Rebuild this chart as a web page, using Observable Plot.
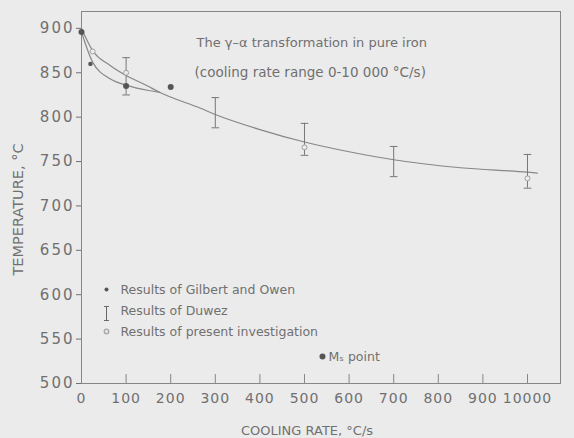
<!DOCTYPE html>
<html><head><meta charset="utf-8">
<script src="https://cdn.jsdelivr.net/npm/d3@7"></script>
<script src="https://cdn.jsdelivr.net/npm/@observablehq/plot@0.6"></script>
<style>
html,body{margin:0;padding:0;background:#ebebeb;}
#chart svg{display:block;}
g[aria-label="y-axis tick label"] text{letter-spacing:2px;}
g[aria-label="x-axis tick label"] text{letter-spacing:1px;}
</style>
</head><body><div id="chart"></div>
<script>
// Main curve (upper branch, runs to 10 000 °C/s)
const upperRate = [0, 25, 65, 100, 145, 175, 267, 300, 400, 500, 600, 700, 850, 1000, 1022];
const upperTemp = [900, 875, 858, 847, 836, 828, 810, 803, 786, 772, 761, 752, 743, 738, 737];
// Lower branch (joins the main curve near 175)
const lowerRate = [0, 25, 65, 100, 150, 175];
const lowerTemp = [896, 862, 843, 836, 830, 828];
// Results of Gilbert and Owen
const gilbertRate = [20];
const gilbertTemp = [860];
// Ms points
const msRate = [0, 100, 200];
const msTemp = [896, 835, 834];
// Results of Duwez (error bars)
const duwezRate = [100, 300, 500, 700, 1000];
const duwezLow = [825, 788, 757, 733, 720];
const duwezHigh = [867, 822, 793, 767, 758];
// Results of present investigation
const presentRate = [25, 100, 500, 1000];
const presentTemp = [874, 850, 766, 731];
// Axis ticks
const xTicks = [0, 100, 200, 300, 400, 500, 600, 700, 800, 900, 1000];
const xTickLabels = ["0", "100", "200", "300", "400", "500", "600", "700", "800", "900", "10000"];
const yTicks = [500, 550, 600, 650, 700, 750, 800, 850, 900];
// Texts
const titleLines = ["The γ–α transformation in pure iron", "(cooling rate range 0-10 000 °C/s)"];
const legendLabels = ["Results of Gilbert and Owen", "Results of Duwez", "Results of present investigation", "Mₛ point"];
const xLabel = "COOLING RATE, °C/s";
const yLabel = "TEMPERATURE, °C";

const upper = upperRate.map((r, i) => ({rate: r, temp: upperTemp[i]}));
const lower = lowerRate.map((r, i) => ({rate: r, temp: lowerTemp[i]}));
const gilbert = gilbertRate.map((r, i) => ({rate: r, temp: gilbertTemp[i]}));
const ms = msRate.map((r, i) => ({rate: r, temp: msTemp[i]}));
const duwez = duwezRate.map((r, i) => ({rate: r, lo: duwezLow[i], hi: duwezHigh[i]}));
const present = presentRate.map((r, i) => ({rate: r, temp: presentTemp[i]}));

const hbar = {draw(ctx, size) { const w = Math.sqrt(size) * 1.2; ctx.moveTo(-w, 0); ctx.lineTo(w, 0); }};
const ibar = {draw(ctx, size) { const h = Math.sqrt(size) * 1.1, w = h * 0.35;
  ctx.moveTo(0, -h); ctx.lineTo(0, h); ctx.moveTo(-w, -h); ctx.lineTo(w, -h); ctx.moveTo(-w, h); ctx.lineTo(w, h); }};

const ink = "#707070";
const lineCol = "#878787";
const T = {frameAnchor: "top-left", textAnchor: "start", lineAnchor: "middle", fill: ink};

const chart = Plot.plot({
  width: 574, height: 438,
  marginLeft: 81, marginRight: 14, marginTop: 11, marginBottom: 55,
  style: {background: "#ebebeb", fontFamily: "DejaVu Sans", color: ink, overflow: "visible"},
  x: {domain: [0, 1074]},
  y: {domain: [500, 919]},
  marks: [
    Plot.frame({stroke: lineCol, strokeWidth: 1}),
    Plot.axisY({ticks: yTicks, tickSize: 5, tickPadding: 2, fontSize: 15, label: null, color: ink}),
    Plot.axisX({ticks: xTicks, tickSize: 9, dy: -9, text: null, label: null, color: lineCol}),
    Plot.axisX({ticks: xTicks, tickSize: 0, tickPadding: 10, fontSize: 14, label: null, color: ink,
      tickFormat: d => xTickLabels[xTicks.indexOf(d)]}),
    Plot.line(upper, {x: "rate", y: "temp", curve: "monotone-x", stroke: lineCol, strokeWidth: 1.2}),
    Plot.line(lower, {x: "rate", y: "temp", curve: "monotone-x", stroke: lineCol, strokeWidth: 1.2}),
    Plot.ruleX(duwez, {x: "rate", y1: "lo", y2: "hi", stroke: "#777", strokeWidth: 1}),
    Plot.dot(duwez, {x: "rate", y: "lo", symbol: hbar, r: 1.8, stroke: "#777", strokeWidth: 1}),
    Plot.dot(duwez, {x: "rate", y: "hi", symbol: hbar, r: 1.8, stroke: "#777", strokeWidth: 1}),
    Plot.dot(present, {x: "rate", y: "temp", r: 2.5, stroke: "#a0a0a0", fill: "#ebebeb", strokeWidth: 1}),
    Plot.dot(gilbert, {x: "rate", y: "temp", r: 2.2, fill: "#555", stroke: "none"}),
    Plot.dot(ms, {x: "rate", y: "temp", r: 3, fill: "#555", stroke: "none"}),
    // title
    Plot.text([titleLines[0]], {...T, dx: 115, dy: 31, fontSize: 13}),
    Plot.text([titleLines[1]], {...T, dx: 113, dy: 61, fontSize: 13.5}),
    // legend
    Plot.dot([legendLabels[0]], {frameAnchor: "top-left", dx: 25, dy: 278, r: 2, fill: "#555", stroke: "none"}),
    Plot.text([legendLabels[0]], {...T, dx: 39, dy: 278, fontSize: 12.5}),
    Plot.dot([legendLabels[1]], {frameAnchor: "top-left", dx: 25, dy: 302, r: 3.6, symbol: ibar, stroke: "#666", strokeWidth: 1}),
    Plot.text([legendLabels[1]], {...T, dx: 39, dy: 299, fontSize: 12.5}),
    Plot.dot([legendLabels[2]], {frameAnchor: "top-left", dx: 25, dy: 320, r: 2.2, stroke: "#aaa", fill: "none"}),
    Plot.text([legendLabels[2]], {...T, dx: 39, dy: 320, fontSize: 12.5}),
    Plot.dot([legendLabels[3]], {frameAnchor: "top-left", dx: 241, dy: 345, r: 3, fill: "#555", stroke: "none"}),
    Plot.text([legendLabels[3]], {...T, dx: 247, dy: 345, fontSize: 12.5}),
    // axis labels
    Plot.text([xLabel], {frameAnchor: "bottom", textAnchor: "middle", lineAnchor: "middle", dx: -14, dy: 47, fontSize: 13, fill: ink}),
    Plot.text([yLabel], {frameAnchor: "left", textAnchor: "middle", lineAnchor: "middle", rotate: -90, dx: -63, dy: 12, fontSize: 14.5, fill: ink})
  ]
});
document.getElementById("chart").appendChild(chart);
</script>
</body></html>
